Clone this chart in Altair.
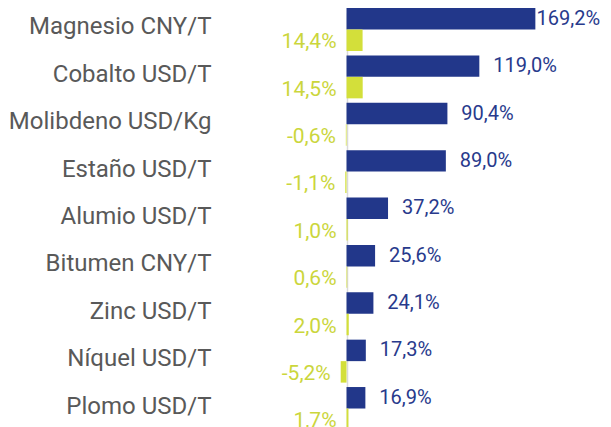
import altair as alt
import pandas as pd

categorias = ["Magnesio CNY/T", "Cobalto USD/T", "Molibdeno USD/Kg", "Estaño USD/T",
              "Alumio USD/T", "Bitumen CNY/T", "Zinc USD/T", "Níquel USD/T", "Plomo USD/T"]
var_anual = [169.2, 119.0, 90.4, 89.0, 37.2, 25.6, 24.1, 17.3, 16.9]
var_mensual = [14.4, 14.5, -0.6, -1.1, 1.0, 0.6, 2.0, -5.2, 1.7]
series = ["anual", "mensual"]

AZUL = "#22378a"
VERDE = "#d3df3a"


def fmt(v):
    return f"{v:.1f}".replace(".", ",") + "%"


rows = []
for c, a, m in zip(categorias, var_anual, var_mensual):
    rows.append({"cat": c, "serie": series[0], "v": a, "label": fmt(a)})
    rows.append({"cat": c, "serie": series[1], "v": m, "label": fmt(m)})
df = pd.DataFrame(rows)

xscale = alt.Scale(domain=[-113.35, 229.8], nice=False, zero=False)
yscale = alt.Scale(paddingInner=0.093, paddingOuter=0, range=[0, 422])
yenc = alt.Y("cat:N", sort=categorias, scale=yscale, title=None,
             axis=alt.Axis(domain=False, ticks=False, grid=False, labelFont="Roboto",
                           labelFontSize=24, labelColor="#595959", labelPadding=9,
                           labelLimit=400, labelOffset=-2))
yoff = alt.YOffset("serie:N", sort=series)

base = alt.Chart(df)

bars = base.mark_bar().encode(
    x=alt.X("v:Q", scale=xscale,
            axis=alt.Axis(values=[0], grid=True, gridColor="#d9d9d9", gridWidth=1.5,
                          labels=False, ticks=False, domain=False, title=None)),
    y=yenc,
    yOffset=yoff,
    color=alt.Color("serie:N", scale=alt.Scale(domain=series, range=[AZUL, VERDE]), legend=None),
)

# value labels: placed after the bar end, kept inside the plot (like the original)
txt_a = base.transform_filter(alt.datum.serie == series[0]).transform_calculate(
    xa="min(datum.v + 12.5, 170.2)"
).mark_text(
    align="left", baseline="middle", font="Roboto", fontSize=20, color="#283a8c"
).encode(x=alt.X("xa:Q", scale=xscale), y=yenc, yOffset=yoff, text="label:N")

txt_m = base.transform_filter(alt.datum.serie == series[1]).transform_calculate(
    xm="min(datum.v, 0)"
).mark_text(
    align="right", baseline="middle", dx=-10, dy=2, font="Roboto", fontSize=21, color="#cbd63c"
).encode(x=alt.X("xm:Q", scale=xscale), y=yenc, yOffset=yoff, text="label:N")

chart = alt.layer(bars, txt_a, txt_m).properties(
    width=383, height=427,
    autosize=alt.AutoSizeParams(type="none"),
    padding={"left": 212, "top": 0, "right": 0, "bottom": 0},
).configure_view(stroke=None)

chart.save("out.html", embed_options={"renderer": "svg", "actions": False})
